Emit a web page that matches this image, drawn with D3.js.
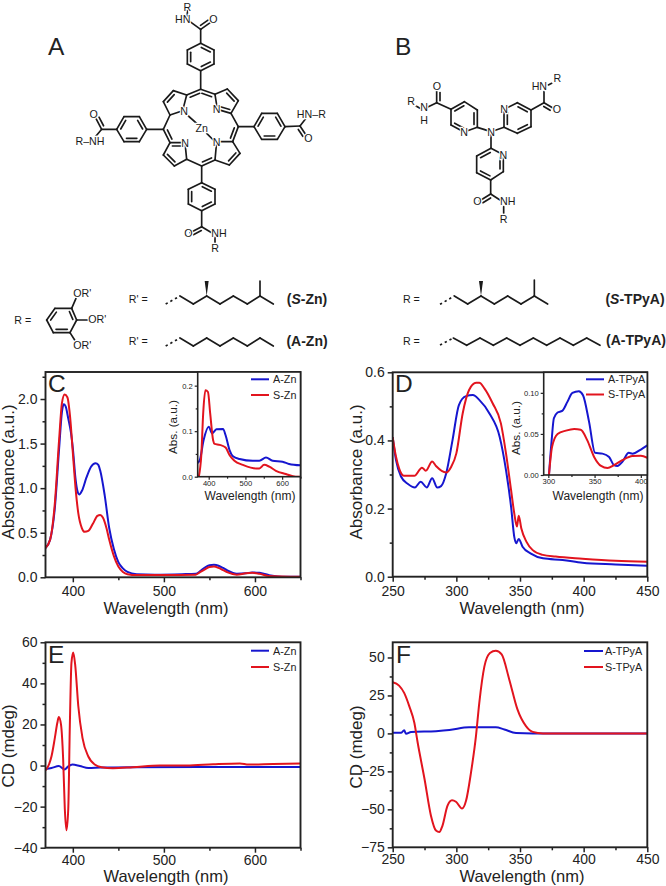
<!DOCTYPE html>
<html>
<head>
<meta charset="utf-8">
<script src="https://cdn.jsdelivr.net/npm/d3@7"></script>
<style>
body{margin:0;background:#fff}
text{font-family:"Liberation Sans",Arial,sans-serif;fill:#222}
</style>
</head>
<body>
<script>
// panel C main
var cAZn=[[370,.33],[375,.42],[380,.75],[385,1.45],[388,1.85],[390,1.94],[392,1.92],[395,1.78],[398,1.62],[400,1.45],[403,1.1],[405,.97],[407,.93],[410,.97],[415,1.12],[420,1.24],[425,1.28],[428,1.26],[430,1.2],[435,.92],[440,.55],[445,.32],[450,.17],[455,.1],[460,.06],[470,.035],[490,.03],[520,.035],[535,.04],[540,.07],[545,.11],[550,.135],[555,.14],[560,.13],[565,.105],[570,.075],[580,.04],[590,.045],[597,.055],[605,.05],[615,.025],[625,.01],[650,.005]];
var cSZn=[[370,.33],[375,.42],[380,.8],[385,1.55],[388,1.95],[391,2.05],[394,2.02],[397,1.8],[400,1.4],[403,1],[406,.72],[410,.55],[413,.51],[417,.52],[422,.6],[427,.69],[430,.7],[433,.67],[437,.55],[440,.42],[445,.24],[450,.12],[455,.06],[460,.035],[470,.025],[500,.025],[535,.03],[540,.06],[545,.09],[550,.115],[555,.12],[560,.105],[565,.08],[570,.055],[580,.03],[590,.045],[597,.05],[605,.04],[615,.015],[650,.005]];
// panel C inset
var ciAZn=[[370,.03],[376,.037],[386,.08],[400,.11],[409,.095],[421,.104],[439,.105],[446,.091],[457,.058],[466,.045],[484,.039],[520,.035],[538,.035],[556,.042],[574,.035],[601,.033],[619,.028],[650,.025]];
var ciSZn=[[373,0],[380,.05],[385,.14],[391,.19],[398,.186],[404,.139],[412,.08],[416,.072],[430,.07],[446,.064],[457,.047],[470,.035],[493,.026],[529,.018],[538,.018],[551,.026],[565,.022],[583,.013],[610,.006],[637,0],[650,0]];
// panel D main
var dATPyA=[[250,.41],[252.6,.342],[256.5,.294],[262,.272],[267.5,.262],[272,.279],[276.7,.262],[281,.289],[285,.262],[288,.266],[292,.303],[297,.401],[302,.504],[307.6,.53],[313,.533],[318,.519],[326,.479],[334,.411],[339,.313],[343,.205],[345.5,.117],[347,.098],[349,.111],[352,.088],[358.6,.068],[368,.054],[383.5,.049],[399,.041],[425,.036],[450,.032]];
var dSTPyA=[[250,.41],[252.6,.352],[255,.318],[259,.296],[267,.296],[273,.32],[276,.311],[281,.338],[284,.325],[292,.306],[296,.323],[300,.362],[305,.48],[310,.548],[315.5,.569],[318,.569],[322,.553],[328.5,.509],[335,.45],[339,.362],[343,.254],[345.5,.186],[347.6,.147],[349,.179],[351,.142],[355,.103],[360,.078],[368,.064],[378,.059],[399,.053],[425,.047],[450,.044]];
// panel D inset
var diATPyA=[[300.7,0],[303.6,.0425],[306,.069],[310,.076],[315,.078],[320.6,.089],[326,.1],[333,.102],[337.5,.097],[344,.065],[350.5,.027],[358.5,.026],[365.7,.022],[371,.012],[374.7,.011],[380,.016],[387,.027],[391,.026],[400,.031],[407,.036]];
var diSTPyA=[[300.7,0],[304,.034],[310,.05],[319,.054],[328,.056],[335,.055],[342,.0425],[349.5,.022],[357,.011],[364,.0085],[371,.012],[380,.018],[391,.023],[400,.0235],[407,.021]];
// panel E
var eAZn=[[370,-1.7],[376.6,-1.2],[384.6,-.2],[391,-1.9],[395,-.4],[399.6,.5],[407.7,-.2],[417,-1.2],[430,-1],[466,-.8],[540,-.7],[650,-.7]];
var eSZn=[[370,-2.3],[373,-.3],[376.6,4.5],[380,12.7],[383,20.8],[384.6,23.6],[387,20],[389.4,2.9],[391.2,-21],[393,-31.5],[395,-21],[396.7,19],[398.5,50],[400.4,55],[402.6,49],[406,29],[410.6,13.5],[417,4.4],[424,.5],[431.5,-.8],[444,-1.3],[466,-.8],[495.6,0],[525,0],[554,.6],[583.5,1],[593,.5],[620,.8],[650,1]];
// panel F
var fATPyA=[[250,.4],[256.5,.4],[259,2],[260.5,-.2],[264.4,.9],[284,1.5],[294.5,2.2],[310,4],[331,4],[337.7,2.6],[346.9,.3],[360,0],[450,0]];
var fSTPyA=[[250,33.7],[255,31.5],[259,26.7],[263,18],[267,7],[269.6,-6],[275,-30],[280,-54],[284,-64],[286.6,-65],[289,-61],[293,-47.7],[296.6,-44],[299.7,-45],[304.5,-49.5],[307.6,-44.4],[311.5,-25.8],[315.4,-1.8],[318,20],[322,44],[326.4,53],[331,54.5],[335.6,52],[341.6,35.4],[348,15.8],[354.7,4.8],[360,1],[368,0],[450,0]];

var BLUE="#1616cf",RED="#e2141e",INK="#222";

var svg=d3.select("body").append("svg").attr("width",666).attr("height",886).style("display","block");

function frame(o){
	var g=svg.append("g").attr("transform","translate("+o.l+","+o.t+")");
	var w=o.r-o.l,h=o.b-o.t;
	var x=d3.scaleLinear().domain(o.xd).range([0,w]);
	var y=d3.scaleLinear().domain(o.yd).range([h,0]);

	// minor ticks first, major + labels after
	var xMin=g.append("g").attr("transform","translate(0,"+h+")").call(d3.axisBottom(x).tickValues(o.xMinor).tickSize(o.minor).tickFormat(""));
	var yMin=g.append("g").call(d3.axisLeft(y).tickValues(o.yMinor).tickSize(o.minor).tickFormat(""));
	var xAx=g.append("g").attr("transform","translate(0,"+h+")").call(d3.axisBottom(x).tickValues(o.xTicks).tickSize(o.major).tickPadding(o.xPad).tickFormat(d3.format("d")));
	var yAx=g.append("g").call(d3.axisLeft(y).tickValues(o.yTicks).tickSize(o.major).tickPadding(o.yPad).tickFormat(d3.format(o.yFmt)));
	[xMin,yMin,xAx,yAx].forEach(function(a){
		a.select(".domain").remove();
		a.selectAll("line").attr("stroke",INK).attr("stroke-width",o.tw);
		a.selectAll("text").attr("font-size",o.font).attr("font-family","Liberation Sans").style("fill",INK);
	});

	// clip so curves stop at the frame
	var id="clip"+o.id;
	g.append("clipPath").attr("id",id).append("rect").attr("width",w).attr("height",h);
	var line=d3.line().x(function(d){return x(d[0])}).y(function(d){return y(d[1])}).curve(d3.curveMonotoneX);
	o.series.forEach(function(s){
		g.append("path").datum(s[0]).attr("d",line).attr("fill","none").attr("stroke",s[1]).attr("stroke-width",o.lw).attr("stroke-linejoin","round").attr("clip-path","url(#"+id+")");
	});

	// frame lines
	g.append("rect").attr("width",w).attr("height",h).attr("fill","none").attr("stroke",INK).attr("stroke-width",o.tw+.4);
	return g;
}

function label(t,x,y,size,rot,anchor){
	var e=svg.append("text").text(t).attr("font-size",size).attr("text-anchor",anchor||"middle");
	if(rot) e.attr("transform","translate("+x+","+y+") rotate(-90)");
	else e.attr("x",x).attr("y",y);
	return e;
}

function legend(x1,x2,tx,y1,y2,names,size){
	[[y1,BLUE,names[0]],[y2,RED,names[1]]].forEach(function(d){
		svg.append("line").attr("x1",x1).attr("x2",x2).attr("y1",d[0]).attr("y2",d[0]).attr("stroke",d[1]).attr("stroke-width",2);
		label(d[2],tx,d[0]+3.8,size,0,"start");
	});
}

var main={major:5,minor:3,xPad:4,yPad:3,font:14,tw:1.5,lw:2};
function mainFrame(o){return frame(Object.assign({},main,o))}
var inset={major:3,minor:2,xPad:1,yPad:2,font:7.6,tw:1.2,lw:2};
function insetFrame(o){
	svg.append("rect").attr("x",o.l).attr("y",o.t).attr("width",o.r-o.l).attr("height",o.b-o.t).attr("fill","#fff");
	return frame(Object.assign({},inset,o));
}

mainFrame({id:"c",l:45.5,r:300.5,t:372,b:577.3,xd:[370,650],yd:[0,2.303],xTicks:[400,500,600],xMinor:[450,550,650],yTicks:[0,.5,1,1.5,2],yMinor:[.25,.75,1.25,1.75,2.25],yFmt:".1f",series:[[cAZn,BLUE],[cSZn,RED]]});
insetFrame({id:"ci",l:197.7,r:300.5,t:372,b:476.7,xd:[370,650],yd:[0,.23],xTicks:[400,500,600],xMinor:[450,550,650],yTicks:[0,.1,.2],yMinor:[.05,.15],yFmt:".1f",series:[[ciAZn,BLUE],[ciSZn,RED]]});
mainFrame({id:"d",l:392.7,r:647.3,t:372.3,b:576.7,xd:[250,450],yd:[0,.6],xTicks:[250,300,350,400,450],xMinor:[275,325,375,425],yTicks:[0,.2,.4,.6],yMinor:[.1,.3,.5],yFmt:".1f",series:[[dATPyA,BLUE],[dSTPyA,RED]]});
insetFrame({id:"di",l:543.7,r:647.3,t:372.3,b:475,xd:[295,407],yd:[0,.125],xTicks:[300,350,400],xMinor:[325,375],yTicks:[0,.05,.1],yMinor:[.025,.075],yFmt:".2f",series:[[diATPyA,BLUE],[diSTPyA,RED]]});
mainFrame({id:"e",xPad:2,l:45.5,r:300.5,t:642.3,b:847.7,xd:[370,650],yd:[-40,60],xTicks:[400,500,600],xMinor:[450,550,650],yTicks:[-40,-20,0,20,40,60],yMinor:[-30,-10,10,30,50],yFmt:"d",series:[[eAZn,BLUE],[eSZn,RED]]});
mainFrame({id:"f",xPad:2,l:392.7,r:647.3,t:642.3,b:847.3,xd:[250,450],yd:[-75,60],xTicks:[250,300,350,400,450],xMinor:[275,325,375,425],yTicks:[-75,-50,-25,0,25,50],yMinor:[-62.5,-37.5,-12.5,12.5,37.5],yFmt:"d",series:[[fATPyA,BLUE],[fSTPyA,RED]]});

// axis titles
label("Wavelength (nm)",166,614,16.5);
label("Wavelength (nm)",522,614,16.5);
label("Wavelength (nm)",166,882,16.5);
label("Wavelength (nm)",522,882,16.5);
label("Absorbance (a.u.)",14,472,17,1);
label("Absorbance (a.u.)",362,472,17,1);
label("CD (mdeg)",14,746,17,1);
label("CD (mdeg)",362,747,17,1);
label("Wavelength (nm)",250,500,12);
label("Wavelength (nm)",598,500,12);
label("Abs. (a.u.)",177,427,11.7,1);
label("Abs. (a.u.)",520,428,11.7,1);

legend(251,269,273,379.3,395,["A-Zn","S-Zn"],10.8);
legend(586,604,608,379.3,394.5,["A-TPyA","S-TPyA"],10.8);
legend(251,269,273,650.7,667,["A-Zn","S-Zn"],10.8);
legend(584,603,605,651,667,["A-TPyA","S-TPyA"],10.8);

// panel letters
[["A",48,55],["B",395,55],["C",48,392],["D",395,392],["E",48,663],["F",396,663]].forEach(function(d){
	label(d[0],d[1],d[2],24.5,0,"start");
});

// ---- chemical structures, drawn in 3x picture units ----
function chem(ox,oy){
	var g=svg.append("g").attr("transform","translate("+ox+","+oy+") scale("+1/3+")");
	var api={
		bond:function(a,b,dash){
			var l=g.append("line").attr("x1",a[0]).attr("y1",a[1]).attr("x2",b[0]).attr("y2",b[1]).attr("stroke","#1a1a1a").attr("stroke-width",5).attr("stroke-linecap","round");
			if(dash) l.attr("stroke-dasharray","7,9").attr("stroke-linecap","butt");
			return api;
		},
		chain:function(p){
			for(var i=0;i<p.length-1;i++) api.bond(p[i],p[i+1]);
			return api;
		},
		// second stroke of a double bond, on the side of point c
		dbl:function(a,b,c){
			var dx=b[0]-a[0],dy=b[1]-a[1],L=Math.hypot(dx,dy),nx=-dy/L,ny=dx/L;
			if(nx*(c[0]-(a[0]+b[0])/2)+ny*(c[1]-(a[1]+b[1])/2)<0){nx=-nx;ny=-ny}
			api.bond([a[0]+dx*.16+nx*10,a[1]+dy*.16+ny*10],[b[0]-dx*.16+nx*10,b[1]-dy*.16+ny*10]);
			return api;
		},
		wedge:function(a,b){
			g.append("polygon").attr("points",[a[0],a[1],b[0]-6,b[1],b[0]+6,b[1]].join(",")).attr("fill","#1a1a1a");
			return api;
		},
		ring:function(p,dbls){
			var cx=d3.mean(p,function(d){return d[0]}),cy=d3.mean(p,function(d){return d[1]});
			api.chain(p.concat([p[0]]));
			dbls.forEach(function(i){api.dbl(p[i],p[(i+1)%p.length],[cx,cy])});
			return api;
		},
		atom:function(t,x,y,size){
			g.append("text").text(t).attr("x",x).attr("y",y).attr("font-size",size||32).attr("text-anchor","middle").attr("dominant-baseline","central")
				.style("paint-order","stroke").style("stroke","#fff").style("stroke-width",7).style("fill","#1a1a1a");
			return api;
		}
	};
	return api;
}

// A: zinc porphyrin
var a=chem(0,0);
a.ring([[602,130],[642,150],[642,192],[602,212],[562,192],[562,150]],[0,2,4]);
a.bond([602,130],[602,88]).bond([602,88],[635,65]).dbl([602,88],[635,65],[560,60]).bond([602,88],[570,65]).bond([562,50],[562,32]);
a.bond([602,212],[602,268]);
a.ring([[440,388],[418,350],[372,350],[350,388],[372,425],[418,425]],[0,2,4]);
a.bond([490,388],[440,388]).bond([350,388],[305,388]).bond([305,388],[285,350]).dbl([305,388],[285,350],[320,350]).bond([305,388],[285,412]);
a.ring([[762,380],[785,340],[832,340],[855,380],[832,418],[785,418]],[0,2,4]);
a.bond([715,380],[762,380]).bond([855,380],[900,378]).bond([900,378],[918,355]).bond([900,378],[920,408]).dbl([900,378],[920,408],[880,410]);
a.ring([[605,548],[645,568],[645,612],[605,632],[565,612],[565,568]],[0,2,4]);
a.bond([605,498],[605,548]).bond([605,632],[605,680]).bond([605,680],[570,698]).dbl([605,680],[570,698],[620,710]).bond([605,680],[635,698]).bond([645,712],[645,730]);
// pyrroles and meso bridges
var tl=[[560,285],[520,272],[490,305],[510,345],[548,332]];
var tr=[[645,283],[682,267],[715,302],[693,340],[652,328]];
var bl=[[510,428],[555,428],[560,478],[523,498],[490,465]];
var br=[[698,425],[650,425],[645,480],[688,495],[720,460]];
a.ring(tl,[1]).ring(tr,[1,3]).ring(bl,[0,3]).ring(br,[3]);
a.chain([[560,285],[602,268],[645,283]]).dbl([602,268],[645,283],[602,320]).dbl([560,285],[602,268],[602,320]);
a.chain([[510,345],[490,388],[510,428]]).dbl([490,388],[510,428],[540,388]);
a.chain([[693,340],[715,380],[698,425]]).dbl([715,380],[698,425],[670,380]);
a.chain([[560,478],[605,498],[645,480]]).dbl([605,498],[645,480],[605,450]);
a.bond([565,348],[590,370]).bond([620,400],[640,420]);
a.atom("N",552,332).atom("N",650,328).atom("N",555,428).atom("N",650,426).atom("Zn",605,384);
a.atom("R",562,20).atom("HN",548,57).atom("O",640,57);
a.atom("O",281,341).atom("R–NH",270,423);
a.atom("HN–R",934,342).atom("O",925,415);
a.atom("O",565,699).atom("NH",657,698).atom("R",645,745);

// B: tris(pyridyl)amine
var b=chem(340,20);
b.ring([[412,322],[372,336],[333,315],[333,268],[373,245],[412,270]],[1,3,5]);
b.ring([[492,322],[492,268],[532,248],[573,270],[573,320],[532,340]],[0,2,4]);
b.ring([[453,385],[490,404],[490,455],[452,480],[410,458],[410,408]],[1,3,5]);
b.chain([[412,322],[453,335],[492,322]]).bond([453,335],[453,385]);
b.bond([333,268],[290,248]).bond([290,248],[290,212]).dbl([290,248],[290,212],[320,230]).bond([290,248],[262,262]).bond([228,258],[240,265]);
b.bond([573,270],[612,248]).bond([612,248],[640,265]).dbl([612,248],[640,265],[610,275]).bond([612,248],[612,215]).bond([625,195],[635,190]);
b.bond([452,480],[452,522]).bond([452,522],[418,543]).dbl([452,522],[418,543],[460,550]).bond([452,522],[480,540]).bond([491,560],[491,580]);
b.atom("N",453,336).atom("N",372,337).atom("N",492,266).atom("N",490,404);
b.atom("O",291,198).atom("N",252,260).atom("H",252,300).atom("R",213,243);
b.atom("HN",598,198).atom("O",651,267).atom("R",652,175);
b.atom("O",412,543).atom("NH",503,543).atom("R",491,597);

// R' side chains
var c1=chem(0,0);
c1.bond([497,912],[540,888],true).chain([[540,888],[580,912],[620,888],[660,912],[700,888],[742,912],[780,888],[820,912]]);
c1.bond([780,888],[780,843]).wedge([620,888],[620,843]);
c1.atom("R' =",415,898);
var c2=chem(0,0);
c2.bond([497,1038],[540,1014],true).chain([[540,1014],[580,1038],[620,1014],[660,1038],[700,1014],[742,1038],[780,1014],[820,1038]]);
c2.atom("R' =",415,1022);

// R ring
var c3=chem(0,0);
c3.ring([[215,925],[230,960],[210,998],[160,998],[140,960],[165,925]],[0,2,4]);
c3.bond([215,925],[228,895]).bond([230,960],[265,960]).bond([210,998],[224,1020]);
c3.atom("OR'",247,880).atom("OR'",292,958).atom("OR'",247,1036).atom("R =",68,960);

var s2=chem(340,20);
s2.bond([300,853],[343,828],true).chain([[343,828],[383,852],[423,828],[463,852],[503,828],[543,852],[583,828],[623,852]]);
s2.bond([583,828],[583,780]).wedge([423,828],[423,783]);
s2.atom("R =",214,838);
var s3=chem(340,20);
s3.bond([300,975],[340,954],true).chain([[340,954],[380,976],[420,954],[460,976],[500,954],[540,976],[580,954],[620,976],[660,954],[700,976],[740,954],[780,976]]);
s3.atom("R =",214,962);

// bold names
function nameTag(parts,x,y){
	var t=svg.append("text").attr("x",x).attr("y",y).attr("font-size",14).attr("font-weight","bold").attr("text-anchor","middle");
	parts.forEach(function(p){t.append("tspan").text(p[0]).attr("font-style",p[1]?"italic":"normal")});
}
nameTag([["(",0],["S",1],["-Zn)",0]],307,304);
nameTag([["(A-Zn)",0]],307,346);
nameTag([["(",0],["S",1],["-TPyA)",0]],635,304);
nameTag([["(A-TPyA)",0]],636,345);
</script>
</body>
</html>
